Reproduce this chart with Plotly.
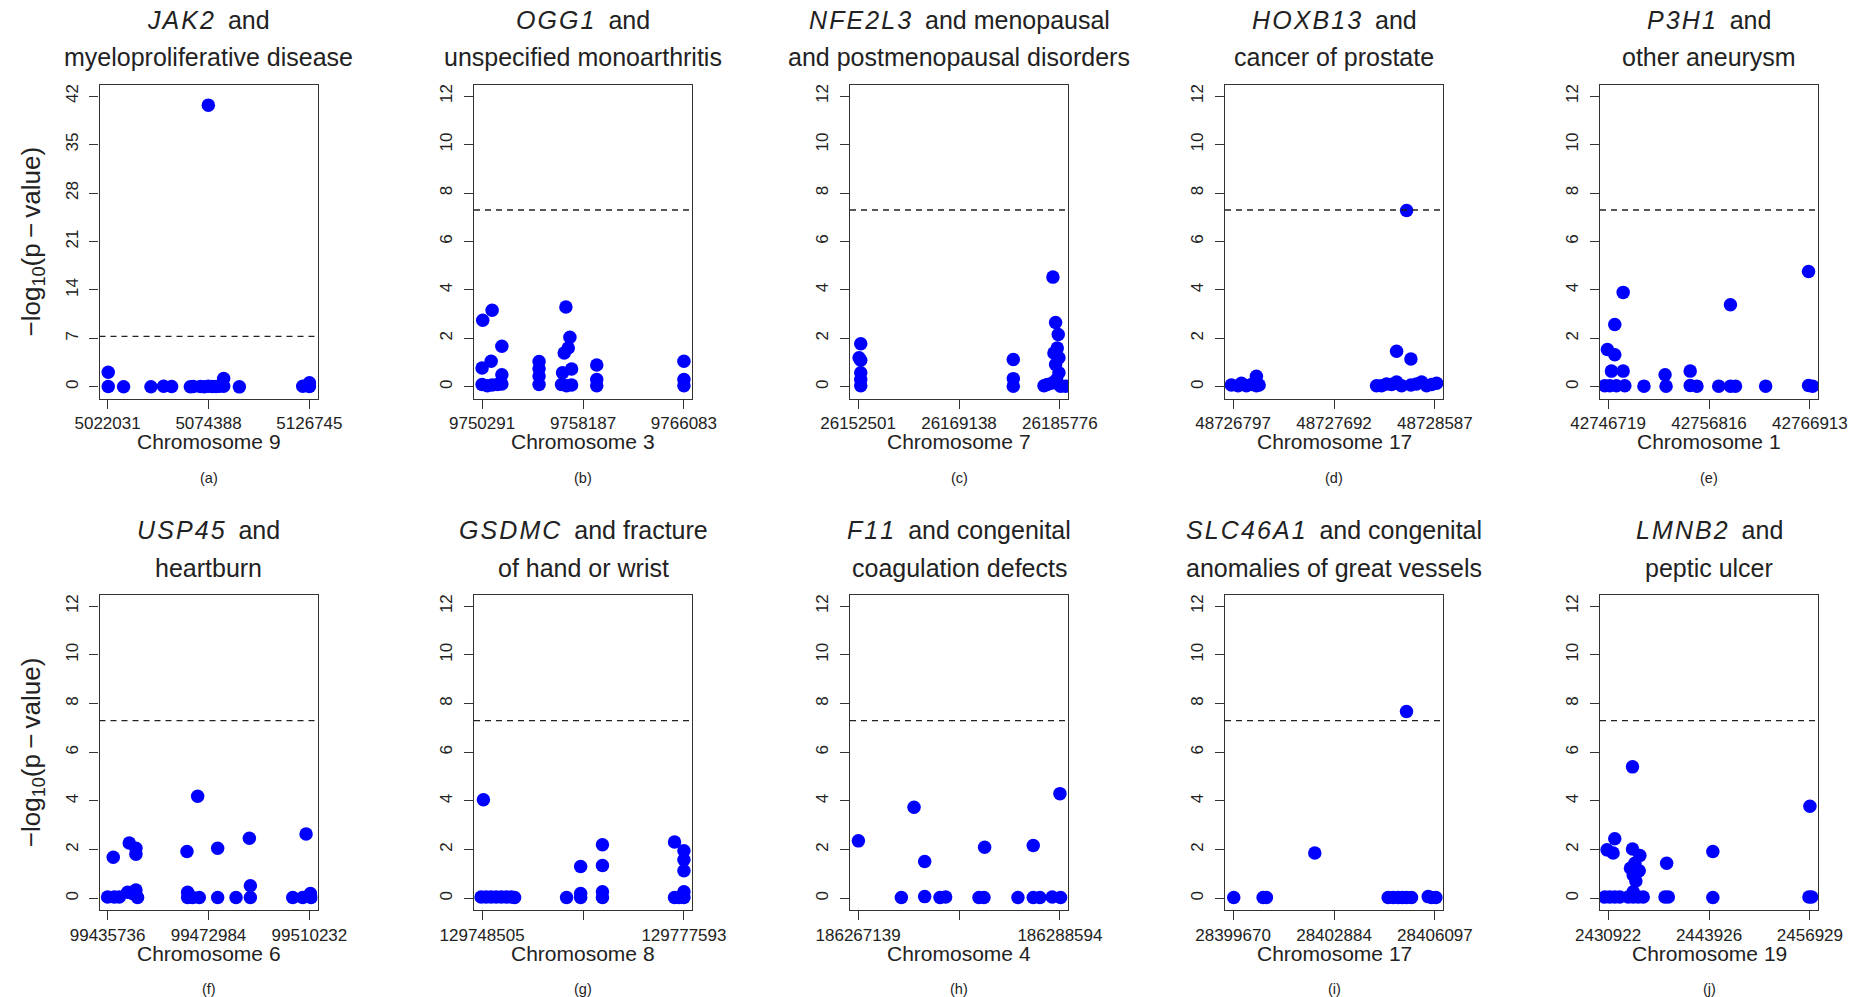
import plotly.graph_objects as go

W, H = 1857, 997

# ---------------- data (genomic position, -log10 p) ----------------
pos_a = [5022377, 5022377, 5030339, 5044531, 5051108, 5055262, 5064955, 5066500, 5070147, 5072200,
         5074301, 5074301, 5076400, 5078282, 5080000, 5082263, 5082263, 5090398, 5123283, 5126745, 5126745]
lp_a = [2.1, 0.05, 0.02, 0.03, 0.1, 0.05, 0.02, 0.04, 0.05, 0.03,
        40.7, 0.1, 0.05, 0.05, 0.08, 1.2, 0.1, 0.0, 0.1, 0.6, 0.05]

pos_b = [9750343, 9751078, 9751839, 9750291, 9751000, 9751839, 9750291, 9750700, 9751078, 9751500, 9751839,
         9754750, 9754750, 9754750, 9754750,
         9756849, 9757164, 9757033, 9756718, 9756586, 9757295, 9756508, 9756900, 9757295,
         9759262, 9759262, 9759262, 9766083, 9766083, 9766083]
lp_b = [2.75, 3.16, 1.68, 0.78, 1.06, 0.5, 0.1, 0.05, 0.08, 0.1, 0.12,
        1.05, 0.75, 0.45, 0.1,
        3.3, 2.05, 1.6, 1.4, 0.58, 0.74, 0.1, 0.05, 0.08,
        0.9, 0.3, 0.05, 1.06, 0.3, 0.05]

pos_c = [26152940, 26152666, 26152940, 26152940, 26152940, 26152940,
         26178089, 26178089, 26178089,
         26184623, 26185062, 26185502, 26185337, 26184788, 26185612, 26185062, 26185612,
         26183690, 26184513, 26185886, 26186710, 26183141, 26185227]
lp_c = [1.78, 1.2, 1.1, 0.58, 0.3, 0.05,
        1.13, 0.34, 0.03,
        4.53, 2.66, 2.16, 1.6, 1.4, 1.2, 0.92, 0.58,
        0.1, 0.16, 0.03, 0.03, 0.05, 0.3]

pos_d = [48726782, 48726841, 48726871, 48726915, 48726960, 48727004, 48727004, 48727028,
         48728336, 48728247, 48728374,
         48728069, 48728114, 48728158, 48728203, 48728247, 48728291, 48728374, 48728424,
         48728469, 48728513, 48728558, 48728602]
lp_d = [0.08, 0.05, 0.15, 0.05, 0.1, 0.44, 0.05, 0.08,
        7.28, 1.47, 1.15,
        0.05, 0.05, 0.12, 0.1, 0.2, 0.05, 0.08, 0.12,
        0.2, 0.05, 0.1, 0.15]

pos_e = [42746652, 42747390, 42747390, 42748228, 42747054, 42748228, 42746384, 42746887, 42747558, 42748396,
         42750308, 42752421, 42752521, 42754936, 42754936, 42755607, 42757787, 42758961, 42758961, 42759464,
         42762483, 42766776, 42766776, 42767179]
lp_e = [1.54, 2.57, 1.33, 3.9, 0.65, 0.65, 0.05, 0.05, 0.05, 0.05,
        0.03, 0.5, 0.03, 0.65, 0.06, 0.03, 0.03, 3.39, 0.03, 0.03,
        0.03, 4.76, 0.06, 0.03]

pos_f = [99437829, 99443739, 99446202, 99446202, 99435736, 99438199, 99440046, 99443124, 99444971, 99446202, 99446818,
         99465041, 99468981, 99465287, 99465287, 99467134, 99469597,
         99476369, 99476369, 99483141, 99488066, 99488435, 99488435,
         99504073, 99509000, 99507767, 99510601, 99510847]
lp_f = [1.69, 2.27, 2.06, 1.81, 0.05, 0.05, 0.05, 0.25, 0.2, 0.34, 0.03,
        1.92, 4.19, 0.25, 0.03, 0.03, 0.03,
        2.06, 0.03, 0.03, 2.47, 0.52, 0.03,
        0.03, 2.64, 0.03, 0.2, 0.03]

pos_g = [129748698, 129748360, 129749085, 129749810, 129750534, 129751259, 129751984, 129752709, 129753192,
         129760682, 129762711, 129762711, 129762711,
         129765852, 129765852, 129765852, 129765852,
         129776241, 129777593, 129777593, 129777593, 129776241, 129777593, 129777593, 129776868]
lp_g = [4.05, 0.05, 0.05, 0.05, 0.05, 0.05, 0.05, 0.05, 0.03,
        0.03, 1.31, 0.2, 0.03,
        2.2, 1.35, 0.27, 0.03,
        2.31, 1.95, 1.58, 1.13, 0.03, 0.27, 0.03, 0.03]

pos_h = [186267174, 186271741, 186273086, 186274219, 186274219, 186275847, 186276449,
         186279989, 186280520, 186280591, 186284131, 186285759, 186285759, 186286467,
         186287777, 186288594, 186288665]
lp_h = [2.36, 0.03, 3.74, 1.51, 0.07, 0.03, 0.05,
        0.03, 0.03, 2.1, 0.03, 2.17, 0.03, 0.03,
        0.05, 4.3, 0.03]

pos_i = [28399691, 28400626, 28400732, 28402272, 28404608, 28404768, 28404927, 28405065, 28405192,
         28405352, 28405192, 28405883, 28405989, 28406127]
lp_i = [0.03, 0.03, 0.03, 1.86, 0.03, 0.03, 0.03, 0.03, 0.03,
        0.03, 7.67, 0.07, 0.03, 0.03]

pos_j = [2430793, 2431569, 2431785, 2434070, 2434070, 2435019, 2434372, 2433812, 2434933, 2434157, 2434502, 2434157,
         2430491, 2431138, 2431785, 2432432, 2433510, 2434157, 2434804, 2435451,
         2438470, 2438254, 2438685, 2444422, 2444422, 2456929, 2456800, 2457145]
lp_j = [1.99, 1.86, 2.45, 5.4, 2.03, 1.76, 1.44, 1.24, 1.13, 0.96, 0.71, 0.27,
        0.05, 0.05, 0.05, 0.05, 0.05, 0.05, 0.05, 0.05,
        1.44, 0.05, 0.05, 1.92, 0.03, 3.78, 0.05, 0.05]

positions = [pos_a, pos_b, pos_c, pos_d, pos_e, pos_f, pos_g, pos_h, pos_i, pos_j]
neglogp = [lp_a, lp_b, lp_c, lp_d, lp_e, lp_f, lp_g, lp_h, lp_i, lp_j]

genes = ["JAK2", "OGG1", "NFE2L3", "HOXB13", "P3H1", "USP45", "GSDMC", "F11", "SLC46A1", "LMNB2"]
title_line1_rest = ["and", "and", "and menopausal", "and", "and",
                    "and", "and fracture", "and congenital", "and congenital", "and"]
title_line2 = ["myeloproliferative disease", "unspecified monoarthritis",
               "and postmenopausal disorders", "cancer of prostate", "other aneurysm",
               "heartburn", "of hand or wrist", "coagulation defects",
               "anomalies of great vessels", "peptic ulcer"]
chromosomes = ["9", "3", "7", "17", "1", "6", "8", "4", "17", "19"]
panel_tags = ["(a)", "(b)", "(c)", "(d)", "(e)", "(f)", "(g)", "(h)", "(i)", "(j)"]

x_tick_vals = [[5022031, 5074388, 5126745], [9750291, 9758187, 9766083],
               [26152501, 26169138, 26185776], [48726797, 48727692, 48728587],
               [42746719, 42756816, 42766913], [99435736, 99472984, 99510232],
               [129748505, 129763049, 129777593], [186267139, 186277866, 186288594],
               [28399670, 28402884, 28406097], [2430922, 2443926, 2456929]]
x_tick_text = [[str(v) for v in tv] for tv in x_tick_vals]
x_tick_text[6][1] = " "
x_tick_text[7][1] = " "

y_tick_vals = [[0, 7, 14, 21, 28, 35, 42]] + [[0, 2, 4, 6, 8, 10, 12]] * 9
y_max = [42] + [12] * 9
gw_threshold = 7.3

# ---------------- layout geometry (pixels) ----------------
col_left = [99.5, 474, 850, 1225, 1600]
box_w = 218
row_top = [84.5, 594.5]
box_h = [314, 315.5]

FONT = "Liberation Sans, Arial, sans-serif"
TXT = "#222222"
fig = go.Figure()
annotations = []
shapes = []

def px_x(x):
    return x / W

def px_y(y):
    return 1 - y / H

for k in range(10):
    r, c = divmod(k, 5)
    ax = "" if k == 0 else str(k + 1)
    x0 = col_left[c]
    y0 = row_top[r]
    x1 = x0 + box_w
    y1 = y0 + box_h[r]
    lo, hi = x_tick_vals[k][0], x_tick_vals[k][-1]
    span = hi - lo
    fig.add_trace(go.Scatter(
        x=positions[k], y=neglogp[k], mode="markers",
        marker=dict(color="#0000FF", size=13.5, line=dict(width=0)),
        xaxis="x" + ax, yaxis="y" + ax, showlegend=False, hoverinfo="x+y"))
    fig.layout["xaxis" + ax] = dict(
        domain=[px_x(x0), px_x(x1)], anchor="y" + ax, automargin=False,
        range=[lo - 0.04 * span, hi + 0.04 * span],
        tickmode="array", tickvals=x_tick_vals[k], ticktext=x_tick_text[k],
        ticks="outside", ticklen=9, tickwidth=1.2, tickcolor="#333333",
        showline=True, mirror=True, linecolor="#333333", linewidth=1.3,
        showgrid=False, zeroline=False,
        tickfont=dict(family=FONT, size=17, color=TXT))
    ym = y_max[k]
    fig.layout["yaxis" + ax] = dict(
        domain=[px_y(y1), px_y(y0)], anchor="x" + ax, automargin=False,
        range=[-0.04 * ym, ym * 1.04],
        tickmode="array", tickvals=y_tick_vals[k],
        ticks="outside", ticklen=9, tickwidth=1.2, tickcolor="#333333",
        tickangle=-90, ticklabelstandoff=5,
        showline=True, mirror=True, linecolor="#333333", linewidth=1.3,
        showgrid=False, zeroline=False,
        tickfont=dict(family=FONT, size=17, color=TXT))
    shapes.append(dict(type="line", xref="x" + ax + " domain", yref="y" + ax,
                       x0=0, x1=1, y0=gw_threshold, y1=gw_threshold,
                       line=dict(color="#222222", width=1.3, dash="6px,5px")))
    cx = px_x((x0 + x1) / 2)
    gene_txt = "\u200a".join(genes[k])
    annotations.append(dict(x=cx, y=px_y(y0 - 65), xref="paper", yref="paper",
                            text="<i>" + gene_txt + "</i>  " + title_line1_rest[k],
                            showarrow=False, xanchor="center", yanchor="middle",
                            font=dict(family=FONT, size=25, color=TXT)))
    annotations.append(dict(x=cx, y=px_y(y0 - 27), xref="paper", yref="paper",
                            text=title_line2[k],
                            showarrow=False, xanchor="center", yanchor="middle",
                            font=dict(family=FONT, size=25, color=TXT)))
    annotations.append(dict(x=cx, y=px_y(y1 + 43), xref="paper", yref="paper",
                            text="Chromosome " + chromosomes[k],
                            showarrow=False, xanchor="center", yanchor="middle",
                            font=dict(family=FONT, size=21, color=TXT)))
    annotations.append(dict(x=cx, y=px_y(y1 + 79), xref="paper", yref="paper",
                            text=panel_tags[k],
                            showarrow=False, xanchor="center", yanchor="middle",
                            font=dict(family=FONT, size=14.5, color=TXT)))
    if c == 0:
        annotations.append(dict(x=px_x(32), y=px_y((y0 + y1) / 2), xref="paper", yref="paper",
                                text="\u2212log<sub>10</sub>(p\u2009\u2212\u2009value)",
                                textangle=-90, showarrow=False,
                                xanchor="center", yanchor="middle",
                                font=dict(family=FONT, size=26, color=TXT)))

fig.update_layout(
    width=W, height=H, margin=dict(l=0, r=0, t=0, b=0, autoexpand=False),
    paper_bgcolor="white", plot_bgcolor="white",
    annotations=annotations, shapes=shapes, showlegend=False)

fig.write_html("out.html")
